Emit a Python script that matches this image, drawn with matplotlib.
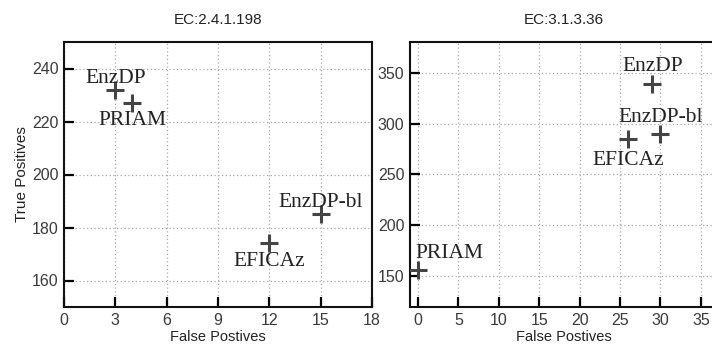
import matplotlib
matplotlib.use("Agg")
import matplotlib.pyplot as plt

plt.rcParams["font.family"] = ["Liberation Sans", "DejaVu Sans"]

# Data
methods = ["EnzDP", "PRIAM", "EnzDP-bl", "EFICAz"]
left_title = "EC:2.4.1.198"
left_fp = [3, 4, 15, 12]
left_tp = [232, 227, 185, 174]
right_title = "EC:3.1.3.36"
right_fp = [29, 0, 30, 26]
right_tp = [339, 156, 290, 285]
left_xticks = [0, 3, 6, 9, 12, 15, 18]
left_yticks = [160, 180, 200, 220, 240]
right_xticks = [0, 5, 10, 15, 20, 25, 30, 35]
right_yticks = [150, 200, 250, 300, 350]

DPI = 100
fig = plt.figure(figsize=(7.12, 3.58), dpi=DPI)
W, H = 712, 358

def px_axes(l, t, r, b):
    return fig.add_axes([l / W, 1 - b / H, (r - l) / W, (b - t) / H])

ax1 = px_axes(64, 42, 372, 307)
ax2 = px_axes(410, 42, 717, 307)

serif = "Liberation Serif"
mcol = "#444444"

def style(ax, title, xticks, yticks, xlim, ylim):
    ax.set_xlim(*xlim)
    ax.set_ylim(*ylim)
    ax.set_xticks(xticks)
    ax.set_yticks(yticks)
    ax.grid(True, linestyle=(0, (1, 2)), color="#a8a8a8", linewidth=0.9)
    ax.set_axisbelow(True)
    ax.tick_params(direction="in", length=7, width=1.6, labelsize=11.5,
                   top=False, right=False, pad=4, colors="black",
                   labelcolor="#3a3a3a")
    for s in ax.spines.values():
        s.set_linewidth(1.5)
        s.set_color("#111111")
    ax.set_title(title, fontsize=11, pad=13, color="#222222")
    ax.set_xlabel("False Postives", fontsize=10.5, color="#222222", labelpad=2)

style(ax1, left_title, left_xticks, left_yticks, (0, 18), (150, 250))
style(ax2, right_title, right_xticks, right_yticks, (-1, 37), (120, 380))
ax1.set_ylabel("True Positives", fontsize=11, color="#222222", labelpad=2)

for ax, fp, tp in ((ax1, left_fp, left_tp), (ax2, right_fp, right_tp)):
    ax.plot(fp, tp, linestyle="none", marker="+", markersize=13,
            markeredgewidth=2.2, color=mcol, zorder=3)

# label placement (offsets in points)
left_offsets = {"EnzDP": (0, 5, "center", "baseline"),
                "PRIAM": (0, -6, "center", "top"),
                "EnzDP-bl": (0, 5, "center", "baseline"),
                "EFICAz": (0, -6, "center", "top")}
right_offsets = {"EnzDP": (0, 9, "center", "baseline"),
                 "PRIAM": (-2, 9, "left", "baseline"),
                 "EnzDP-bl": (0, 8.5, "center", "baseline"),
                 "EFICAz": (0, -9, "center", "top")}

for ax, fp, tp, offs in ((ax1, left_fp, left_tp, left_offsets),
                         (ax2, right_fp, right_tp, right_offsets)):
    for m, x, y in zip(methods, fp, tp):
        dx, dy, ha, va = offs[m]
        ax.annotate(m, (x, y), xytext=(dx, dy), textcoords="offset points",
                    ha=ha, va=va, fontsize=15.5, fontfamily=serif,
                    color="#222222", zorder=4)

fig.savefig("out.png", dpi=DPI)
